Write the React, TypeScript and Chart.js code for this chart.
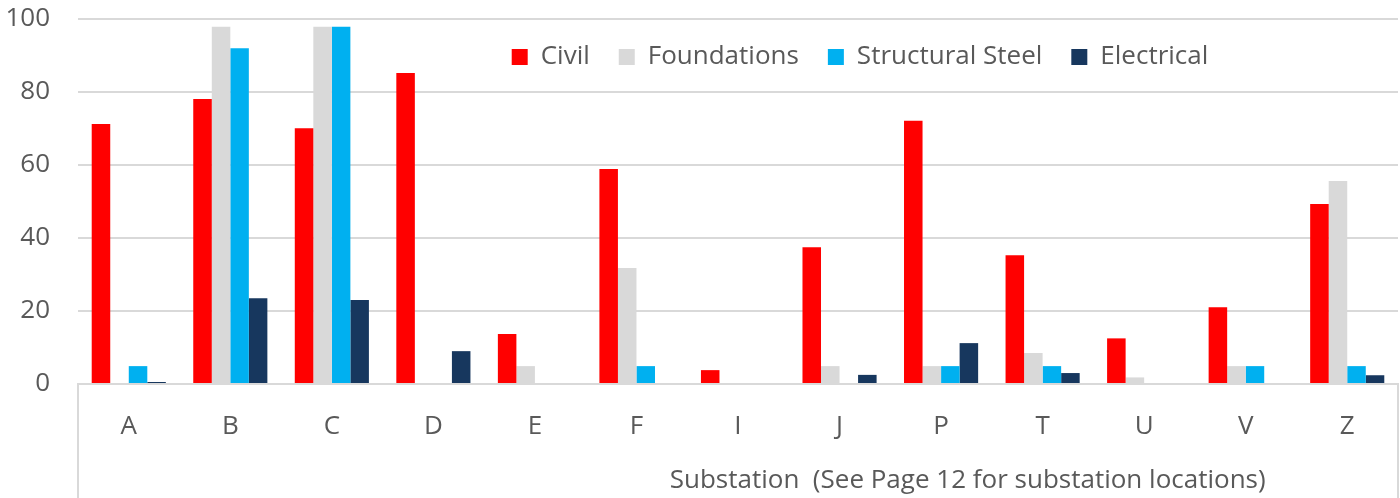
import React, { useEffect, useRef } from "react";
import { Chart, registerables } from "chart.js";

Chart.register(...registerables);

const categories = ["A", "B", "C", "D", "E", "F", "I", "J", "P", "T", "U", "V", "Z"];
const civil = [71.2, 78.1, 70.1, 85.2, 13.7, 58.9, 3.8, 37.5, 72.1, 35.3, 12.5, 21.0, 49.3];
const foundations = [0, 97.9, 97.9, 0, 4.9, 31.8, 0, 4.9, 4.9, 8.5, 1.8, 4.9, 55.6];
const structuralSteel = [4.9, 92.0, 97.9, 0, 0, 4.9, 0, 0, 4.9, 4.9, 0, 4.9, 4.9];
const electrical = [0.55, 23.5, 23.0, 9.0, 0, 0, 0, 2.5, 11.2, 3.0, 0, 0, 2.4];
const seriesNames = ["Civil", "Foundations", "Structural Steel", "Electrical"];
const seriesColors = ["#FF0000", "#D9D9D9", "#00B0F0", "#17375E"];
const xTitle = "Substation  (See Page 12 for substation locations)";
const yMax = 100;
const yStep = 20;

const FONT = '"Open Sans", "Noto Sans", sans-serif';
const TEXT = "#595959";
const GRID = "#D9D9D9";
const LEGEND_PAD = 29;

export default function App() {
  const ref = useRef<HTMLCanvasElement | null>(null);

  useEffect(() => {
    document.body.style.margin = "0";
    const canvas = ref.current;
    if (!canvas) return;

    const legendHack = {
      id: "legendHack",
      afterInit(chart: any) {
        const legend = chart.legend;
        if (!legend) return;
        const orig = legend.fit.bind(legend);
        legend.fit = function () {
          orig();
          this._natH = this.height;
          this.height = 0;
        };
      },
      afterLayout(chart: any) {
        const legend = chart.legend;
        const ca = chart.chartArea;
        if (!legend) return;
        const h = legend._natH || 0;
        legend.top = ca.top + 25 - LEGEND_PAD;
        legend.bottom = legend.top + h;
        legend.height = h;
        legend.left = ca.left + 244;
        legend.right = ca.right;
        legend.width = legend.right - legend.left;
      },
    };

    const boxAndTitle = {
      id: "boxAndTitle",
      afterDraw(chart: any) {
        const { ctx, chartArea } = chart;
        const h = chart.height;
        ctx.save();
        ctx.strokeStyle = GRID;
        ctx.lineWidth = 2;
        ctx.beginPath();
        ctx.moveTo(chartArea.left, chartArea.bottom);
        ctx.lineTo(chartArea.left, h);
        ctx.moveTo(chartArea.right, chartArea.bottom);
        ctx.lineTo(chartArea.right, h);
        ctx.stroke();
        ctx.font = `26px ${FONT}`;
        ctx.fillStyle = TEXT;
        ctx.textAlign = "center";
        ctx.textBaseline = "middle";
        const cx = chartArea.left + (chartArea.right - chartArea.left) * 0.674;
        ctx.fillText(xTitle, cx, chartArea.bottom + 97);
        ctx.restore();
      },
    };

    const data = {
      labels: categories,
      datasets: [civil, foundations, structuralSteel, electrical].map((vals, i) => ({
        label: seriesNames[i],
        data: vals,
        backgroundColor: seriesColors[i],
        borderWidth: 0,
        categoryPercentage: 0.73,
        barPercentage: 1.0,
      })),
    };

    const chart = new Chart(canvas, {
      type: "bar",
      data,
      options: {
        responsive: false,
        animation: false,
        devicePixelRatio: 1,
        layout: { padding: { top: 19, right: 2, left: 0, bottom: 0 } },
        plugins: {
          tooltip: { enabled: false },
          legend: {
            position: "top",
            align: "center",
            labels: {
              color: TEXT,
              font: { family: FONT, size: 26 },
              boxWidth: 16,
              boxHeight: 16,
              padding: LEGEND_PAD,
            },
          },
        },
        scales: {
          x: {
            grid: { display: false, drawTicks: false },
            border: { display: true, color: GRID, width: 2 },
            ticks: {
              color: TEXT,
              font: { family: FONT, size: 26 },
              padding: 27,
              maxRotation: 0,
            },
            afterFit(scale: any) {
              scale.height = 114;
            },
          },
          y: {
            min: 0,
            max: yMax,
            ticks: {
              stepSize: yStep,
              color: TEXT,
              font: { family: FONT, size: 26 },
              padding: 0,
            },
            grid: {
              color: GRID,
              lineWidth: 2,
              drawTicks: true,
              tickLength: 28,
              tickColor: "rgba(0,0,0,0)",
            },
            border: { display: false },
            afterFit(scale: any) {
              scale.width = 78;
            },
          },
        },
      },
      plugins: [legendHack, boxAndTitle],
    } as any);

    return () => chart.destroy();
  }, []);

  return (
    <div style={{ width: 1400, height: 498, position: "relative" }}>
      <canvas ref={ref} width={1400} height={498} />
    </div>
  );
}
